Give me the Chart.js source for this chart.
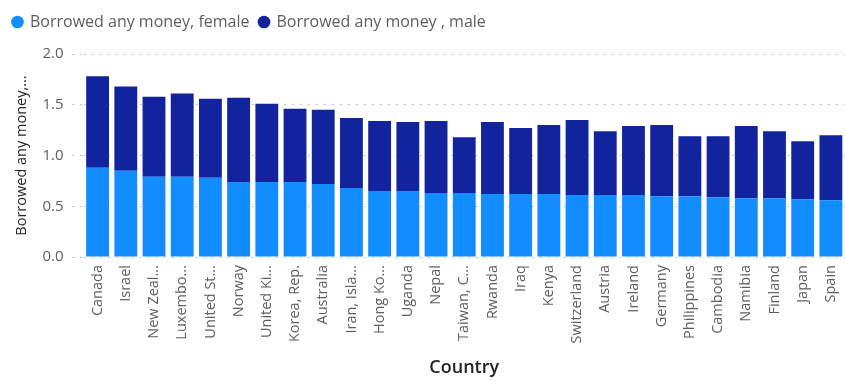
<!DOCTYPE html>
<html lang="en">
<head>
    <meta charset="UTF-8">
    <title>Borrowed any money by country</title>
    <script src="https://cdn.jsdelivr.net/npm/chart.js"></script>
    <style>
        body {
            margin: 0;
            padding: 0;
            background: #ffffff;
        }
        .wrap {
            width: 845px;
            height: 381px;
        }
    </style>
</head>
<body>
    <div class="wrap">
        <canvas id="borrowChart" width="845" height="381"></canvas>
    </div>

    <script>
        const countries = [
            'Canada', 'Israel', 'New Zeal...', 'Luxembo...', 'United St...', 'Norway',
            'United Ki...', 'Korea, Rep.', 'Australia', 'Iran, Isla...', 'Hong Ko...',
            'Uganda', 'Nepal', 'Taiwan, C...', 'Rwanda', 'Iraq', 'Kenya', 'Switzerland',
            'Austria', 'Ireland', 'Germany', 'Philippines', 'Cambodia', 'Namibia',
            'Finland', 'Japan', 'Spain'
        ];
        const femaleValues = [
            0.88, 0.85, 0.79, 0.79, 0.78, 0.74, 0.74, 0.74, 0.72, 0.68, 0.65,
            0.65, 0.63, 0.63, 0.62, 0.62, 0.62, 0.61, 0.61, 0.61, 0.60, 0.60,
            0.59, 0.58, 0.58, 0.57, 0.56
        ];
        const maleValues = [
            0.90, 0.83, 0.79, 0.82, 0.78, 0.83, 0.77, 0.72, 0.73, 0.69, 0.69,
            0.68, 0.71, 0.55, 0.71, 0.65, 0.68, 0.74, 0.63, 0.68, 0.70, 0.59,
            0.60, 0.71, 0.66, 0.57, 0.64
        ];
        const yTicks = [0, 0.5, 1.0, 1.5, 2.0];

        // push the plot down a bit below the legend
        const legendGap = {
            id: 'legendGap',
            beforeInit(chart) {
                const fit = chart.legend.fit;
                chart.legend.fit = function () {
                    fit.bind(chart.legend)();
                    this.height += 14;
                };
            }
        };

        const ctx = document.getElementById('borrowChart').getContext('2d');
        new Chart(ctx, {
            type: 'bar',
            data: {
                labels: countries,
                datasets: [{
                    label: 'Borrowed any money, female',
                    data: femaleValues,
                    backgroundColor: '#118DFF'
                }, {
                    label: 'Borrowed any money , male',
                    data: maleValues,
                    backgroundColor: '#12239E'
                }]
            },
            plugins: [legendGap],
            options: {
                responsive: false,
                animation: false,
                layout: {
                    padding: { left: 3, right: -3, top: 4, bottom: 2 }
                },
                datasets: {
                    bar: {
                        categoryPercentage: 0.81,
                        barPercentage: 1.0
                    }
                },
                plugins: {
                    legend: {
                        position: 'top',
                        align: 'start',
                        labels: {
                            usePointStyle: true,
                            pointStyle: 'circle',
                            boxWidth: 9,
                            boxHeight: 9,
                            padding: 10,
                            color: '#605E5C',
                            font: { family: 'Open Sans', size: 16 }
                        }
                    },
                    tooltip: { enabled: false }
                },
                scales: {
                    x: {
                        stacked: true,
                        grid: { display: false, drawTicks: false },
                        border: { display: false },
                        afterFit: (scale) => {
                            // rotated labels don't need extra side room
                            scale.paddingLeft = 0;
                            scale.paddingRight = 0;
                        },
                        ticks: {
                            minRotation: 90,
                            maxRotation: 90,
                            autoSkip: false,
                            padding: 8,
                            color: '#605E5C',
                            font: { family: 'Open Sans', size: 14.5 }
                        },
                        title: {
                            display: true,
                            text: 'Country',
                            color: '#252423',
                            padding: { top: 6, bottom: 0 },
                            font: { family: 'Open Sans', size: 18, weight: '600' }
                        }
                    },
                    y: {
                        stacked: true,
                        min: 0,
                        max: 2,
                        afterBuildTicks: (axis) => {
                            axis.ticks = yTicks.map(v => ({ value: v }));
                        },
                        grid: {
                            color: '#B3B0AD',
                            lineWidth: 1,
                            drawTicks: true,
                            tickLength: 11,
                            tickColor: '#B3B0AD',
                            tickBorderDash: [1.5, 6.5]
                        },
                        border: { display: true, color: 'rgba(0,0,0,0)', dash: [1.5, 6.5] },
                        ticks: {
                            padding: 9,
                            color: '#605E5C',
                            font: { family: 'Open Sans', size: 15 },
                            callback: (v) => Number(v).toFixed(1)
                        },
                        title: {
                            display: true,
                            text: 'Borrowed any money,...',
                            color: '#252423',
                            padding: { top: 10, bottom: 3 },
                            font: { family: 'Open Sans', size: 14.5, weight: '500' }
                        }
                    }
                }
            }
        });
    </script>
</body>
</html>
